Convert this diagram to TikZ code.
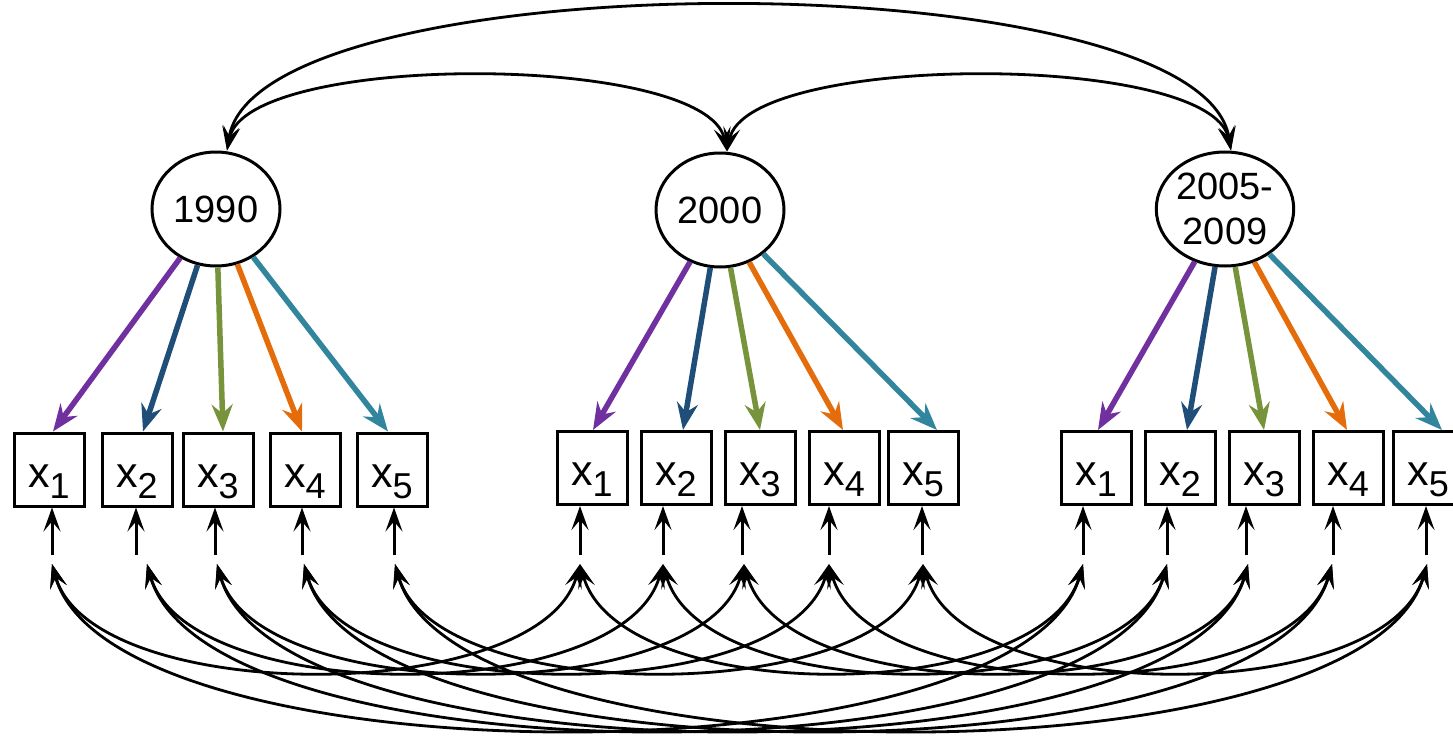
\documentclass[tikz,border=0pt]{standalone}
\usepackage{fontspec}
\setmainfont{Liberation Sans}
\usetikzlibrary{arrows.meta,shapes.geometric}
\definecolor{cpur}{HTML}{7030A0}
\definecolor{cblu}{HTML}{1F4E79}
\definecolor{cgrn}{HTML}{77933C}
\definecolor{corg}{HTML}{E46C0A}
\definecolor{ctea}{HTML}{31859C}
\newcommand\subsc[1]{\raisebox{-11pt}{\fontsize{36}{36}\selectfont #1}}
\begin{document}
\begin{tikzpicture}[x=1pt,y=-1pt,
  lat/.style={ellipse,draw,line width=3pt,minimum width=128pt,minimum height=114pt,inner sep=0pt,align=center,font=\fontsize{38}{45}\selectfont},
  obs/.style={rectangle,draw,line width=3pt,minimum width=70pt,minimum height=73pt,inner sep=0pt,text height=40pt,text depth=5pt,font=\fontsize{43}{43}\selectfont},
  tipk/.tip={Stealth[length=24pt,width=17pt,inset=10pt]},
  tipc/.tip={Stealth[length=27pt,width=21pt,inset=9pt]},
  load/.style={line width=5.5pt,-tipc},
  resid/.style={line width=3pt,-tipk},
  cov/.style={line width=2.8pt,tipk-tipk},
]
\useasboundingbox (0,0) rectangle (1453,736);

% latent variables
\node[lat] (L1) at (216,209) {1990};
\node[lat] (L2) at (720,210) {2000};
\node[lat] (L3) at (1225,209) {2005-\\2009};

% observed indicators
\foreach \i/\x in {1/49,2/137,3/218,4/305,5/392}{
  \node[obs] (a\i) at (\x,469.5) {x\subsc{\i}};}
\foreach \i/\x in {1/592,2/676,3/760,4/844,5/923}{
  \node[obs] (b\i) at (\x,468) {x\subsc{\i}};}
\foreach \i/\x in {1/1096,2/1180,3/1264,4/1348,5/1428}{
  \node[obs] (c\i) at (\x,468) {x\subsc{\i}};}

% loadings
\foreach \i/\col/\dx in {1/cpur/4,2/cblu/6,3/cgrn/5,4/corg/-3,5/ctea/-4}{
  \draw[load,\col] (L1) -- ([xshift=\dx pt]a\i.north);}
\foreach \i/\col/\dx in {1/cpur/1,2/cblu/7,3/cgrn/0,4/corg/-1,5/ctea/14}{
  \draw[load,\col] (L2) -- ([xshift=\dx pt]b\i.north);}
\foreach \i/\col/\dx in {1/cpur/2,2/cblu/7,3/cgrn/0,4/corg/-1,5/ctea/14}{
  \draw[load,\col] (L3) -- ([xshift=\dx pt]c\i.north);}

% latent covariances
\coordinate (t1) at ([xshift=11pt]L1.north);
\coordinate (t2) at ([xshift=7pt]L2.north);
\coordinate (t3) at ([xshift=6pt]L3.north);
\draw[cov] (t1) .. controls +(30,-192) and +(-30,-192) .. (t3);
\draw[cov] (t1) .. controls +(20,-99) and +(-20,-99) .. (t2);
\draw[cov] (t2) .. controls +(20,-99) and +(-20,-99) .. (t3);

% residuals and residual covariances
\foreach \i/\ra/\rb/\rc/\ka/\kb/\kc in {1/52/580/1083/52/580/1083,2/136/663/1167/147/663/1167,3/215/742/1246/217/744/1248,4/302/829/1333/304/829/1332,5/394/922/1426/395/923/1427}{
  \coordinate (ea\i) at (\ra,555);
  \coordinate (eb\i) at (\rb,555);
  \coordinate (ec\i) at (\rc,555);
  \coordinate (ka\i) at (\ka,564);
  \coordinate (kb\i) at (\kb,564);
  \coordinate (kc\i) at (\kc,564);
  \draw[resid] (ea\i) -- (ea\i |- a\i.south);
  \draw[resid] (eb\i) -- (eb\i |- b\i.south);
  \draw[resid] (ec\i) -- (ec\i |- c\i.south);
  \draw[cov] (ka\i) .. controls +(40,143) and +(-40,143) .. (kb\i);
  \draw[cov] (kb\i) .. controls +(40,143) and +(-40,143) .. (kc\i);
  \draw[cov] (ka\i) .. controls +(60,220) and +(-60,220) .. (kc\i);
}
\end{tikzpicture}
\end{document}
